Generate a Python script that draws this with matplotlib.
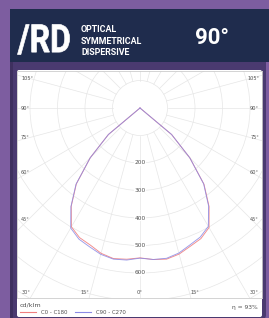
import matplotlib
matplotlib.use("Agg")
import matplotlib.pyplot as plt
import numpy as np
from matplotlib.font_manager import FontProperties
from matplotlib.patches import Circle, FancyBboxPatch, PathPatch, Rectangle
from matplotlib.textpath import TextPath
from matplotlib.transforms import Affine2D

# photometric data: intensity (cd/klm) vs gamma angle from nadir (deg)
GAMMA = [0, 5, 10, 15, 20, 25, 30, 35, 40, 45, 50, 55, 180]
C0 = [545, 553, 558, 550, 535, 524, 502, 438, 362, 256, 150, 0, 0]
C180 = [545, 552, 556, 547, 530, 520, 499, 436, 360, 256, 150, 0, 0]
C90 = [546, 553, 555, 546, 530, 518, 497, 435, 360, 256, 150, 0, 0]
C270 = [546, 555, 558, 551, 537, 526, 504, 438, 362, 256, 150, 0, 0]

RINGS = [100, 200, 300, 400, 500, 600, 700, 800, 900]
RING_LABELS = [200, 300, 400, 500, 600]
SIDE_ANGLES = [45, 60, 75, 90, 105]
BOTTOM_ANGLES = [15, 30]
ETA = "93%"

OUTER = "#7d5da0"
NAVY = "#1f2c4d"
PANEL = "#4a3a70"
GRID = "#e6e6e6"
FRAME = "#cccccc"
TXT = "#505050"
RED = "#f07f7f"
BLUE = "#8a8ae6"

plt.rcParams["font.family"] = ["DejaVu Sans"]

W, H = 269, 318
fig = plt.figure(figsize=(W / 100, H / 100), dpi=100)
fig.patch.set_facecolor(OUTER)

# background / decoration layer in pixel coordinates
bg = fig.add_axes([0, 0, 1, 1])
bg.set_xlim(0, W)
bg.set_ylim(H, 0)
bg.axis("off")

bg.add_patch(FancyBboxPatch((10, 62), 256, 257, boxstyle="round,pad=0,rounding_size=4",
                            fc=PANEL, ec="none"))
bg.add_patch(Rectangle((10, 60), 256, 20, fc=PANEL, ec="none"))
bg.add_patch(Rectangle((10, 62), 3, 256, fc="#3e305f", ec="none"))
bg.add_patch(Rectangle((10, 9), 259, 53, fc=NAVY, ec="none"))
bg.add_patch(FancyBboxPatch((17, 70), 245, 247, boxstyle="round,pad=0,rounding_size=2",
                            fc="white", ec="none"))

# "/RD" logo, squeezed horizontally
tp = TextPath((0, 0), "/RD", size=1, prop=FontProperties(family="Roboto", weight="bold"))
bb = tp.get_extents()
sx, sy = 52 / bb.width, 30 / bb.height
tr = Affine2D().translate(-bb.x0, -bb.y0).scale(sx, -sy).translate(17.5, 54.5)
bg.add_patch(PathPatch(tr.transform_path(tp), fc="white", ec="white", lw=0.5))

for i, line in enumerate(["OPTICAL", "SYMMETRICAL", "DISPERSIVE"]):
    bg.text(81, 30 + i * 11.2, line, color="white", fontsize=6.4, fontweight="bold",
            family="Roboto", ha="left", va="center")
bg.text(212, 38.5, "90°", color="white", fontsize=16, fontweight="bold",
        family="Roboto", ha="center", va="center")

# polar diagram drawn on cartesian axes (clipped to the frame)
cx, cy, scale = 140, 108, 0.275
ax = fig.add_axes([17 / W, 1 - 298 / H, 245 / W, 227 / H])
ax.set_xlim((17 - cx) / scale, (262 - cx) / scale)
ax.set_ylim((cy - 298) / scale, (cy - 71) / scale)
ax.set_facecolor("white")
ax.set_xticks([])
ax.set_yticks([])
for s in ax.spines.values():
    s.set_color(FRAME)
    s.set_linewidth(0.6)

for r in RINGS:
    ax.add_patch(Circle((0, 0), r, fill=False, ec=GRID, lw=0.5, zorder=1))
for a in range(0, 360, 15):
    t = np.radians(a)
    ax.plot([100 * np.sin(t), 1000 * np.sin(t)], [-100 * np.cos(t), -1000 * np.cos(t)],
            color=GRID, lw=0.5, zorder=1)

g = np.radians(np.array(GAMMA, dtype=float))


def curve(right, left):
    right = np.asarray(right, dtype=float)
    left = np.asarray(left, dtype=float)
    x = np.concatenate([-(left * np.sin(g))[::-1], right * np.sin(g)])
    y = np.concatenate([-(left * np.cos(g))[::-1], -right * np.cos(g)])
    return x, y


x1, y1 = curve(C0, C180)
x2, y2 = curve(C90, C270)
l1, = ax.plot(x1, y1, color=RED, lw=0.65, zorder=3, alpha=0.9)
l2, = ax.plot(x2, y2, color=BLUE, lw=0.65, zorder=3, alpha=0.85)

for r in RING_LABELS:
    ax.text(0, -r, str(r), ha="center", va="center", fontsize=4.2, color=TXT, zorder=2,
            bbox=dict(fc="white", ec="none", pad=0.2))
ax.text(0, (cy - 293) / scale, "0°", ha="center", va="center", fontsize=3.8, color=TXT)

xl, xr = ax.get_xlim()
yb = ax.get_ylim()[0]
for a in SIDE_ANGLES:
    y = -404 / np.tan(np.radians(a))
    ax.text(xl + 4 / scale, y, f"{a}°", ha="left", va="center", fontsize=3.6, color=TXT)
    ax.text(xr - 3 / scale, y, f"{a}°", ha="right", va="center", fontsize=3.6, color=TXT)
for a in BOTTOM_ANGLES:
    x = -yb * np.tan(np.radians(a))
    ax.text(-x, (cy - 293) / scale, f"{a}°", ha="right", va="center", fontsize=3.6, color=TXT)
    ax.text(x, (cy - 293) / scale, f"{a}°", ha="left", va="center", fontsize=3.6, color=TXT)

leg = ax.legend([l1, l2], ["C0 - C180", "C90 - C270"], loc="upper left",
                bbox_to_anchor=(20 / W, 1 - 302.5 / H), bbox_transform=fig.transFigure,
                ncol=2, frameon=False, fontsize=3.9, handlelength=2.9, handletextpad=0.9,
                columnspacing=1.5, borderpad=0, borderaxespad=0, title="cd/klm",
                title_fontsize=4.6, alignment="left")
for t in leg.get_texts():
    t.set_color(TXT)
leg.get_title().set_color(TXT)
for h in leg.legend_handles:
    h.set_alpha(1)
    h.set_linewidth(0.8)

bg.text(258, 307, f"η = {ETA}", ha="right", va="center", fontsize=4.3, color=TXT)

fig.savefig("out.png", dpi=100, facecolor=OUTER)
